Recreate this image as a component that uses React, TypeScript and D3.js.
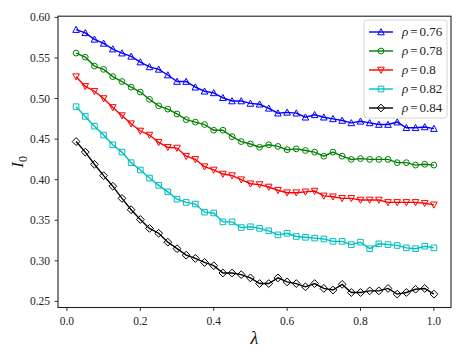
import React from 'react';
import * as d3 from 'd3';

const lambdaValues = [
  0.025, 0.05, 0.075, 0.1, 0.125, 0.15, 0.175, 0.2, 0.225, 0.25,
  0.275, 0.3, 0.325, 0.35, 0.375, 0.4, 0.425, 0.45, 0.475, 0.5,
  0.525, 0.55, 0.575, 0.6, 0.625, 0.65, 0.675, 0.7, 0.725, 0.75,
  0.775, 0.8, 0.825, 0.85, 0.875, 0.9, 0.925, 0.95, 0.975, 1.0,
];

const rho076 = [
  0.585, 0.581, 0.573, 0.568, 0.561, 0.556, 0.552, 0.545, 0.539, 0.536,
  0.529, 0.521, 0.521, 0.514, 0.509, 0.507, 0.501, 0.497, 0.497, 0.494,
  0.493, 0.488, 0.482, 0.483, 0.482, 0.477, 0.48, 0.477, 0.475, 0.473,
  0.47, 0.472, 0.47, 0.468, 0.468, 0.471, 0.464, 0.464, 0.465, 0.463,
];
const rho078 = [
  0.556, 0.551, 0.54, 0.536, 0.527, 0.521, 0.514, 0.508, 0.499, 0.491,
  0.487, 0.481, 0.474, 0.471, 0.468, 0.461, 0.461, 0.453, 0.447, 0.444,
  0.44, 0.443, 0.441, 0.437, 0.438, 0.436, 0.434, 0.429, 0.434, 0.429,
  0.425, 0.426, 0.425, 0.425, 0.425, 0.421, 0.421, 0.418, 0.419, 0.418,
];
const rho080 = [
  0.527, 0.515, 0.509, 0.5, 0.489, 0.479, 0.469, 0.46, 0.455, 0.446,
  0.44, 0.439, 0.429, 0.425, 0.416, 0.412, 0.407, 0.405, 0.4, 0.395,
  0.394, 0.391, 0.387, 0.384, 0.384, 0.385, 0.386, 0.38, 0.379, 0.377,
  0.377, 0.375, 0.375, 0.375, 0.372, 0.372, 0.372, 0.372, 0.371, 0.369,
];
const rho082 = [
  0.49, 0.478, 0.466, 0.455, 0.443, 0.434, 0.421, 0.412, 0.402, 0.393,
  0.385, 0.376, 0.372, 0.37, 0.36, 0.359, 0.348, 0.348, 0.341, 0.342,
  0.34, 0.337, 0.332, 0.334, 0.33, 0.329, 0.328, 0.327, 0.324, 0.324,
  0.32, 0.323, 0.315, 0.321, 0.32, 0.319, 0.316, 0.315, 0.318, 0.316,
];
const rho084 = [
  0.447, 0.434, 0.419, 0.405, 0.392, 0.377, 0.363, 0.351, 0.34, 0.334,
  0.323, 0.315, 0.307, 0.303, 0.298, 0.294, 0.285, 0.285, 0.283, 0.279,
  0.272, 0.272, 0.279, 0.274, 0.272, 0.268, 0.272, 0.266, 0.264, 0.271,
  0.261, 0.261, 0.263, 0.263, 0.266, 0.259, 0.261, 0.265, 0.266, 0.259,
];

const seriesLabels = ['0.76', '0.78', '0.8', '0.82', '0.84'];
const seriesValues = [rho076, rho078, rho080, rho082, rho084];
const seriesColors = ['#0000ff', '#008000', '#ff0000', '#00bfbf', '#000000'];
const seriesMarkers = ['triUp', 'circle', 'triDown', 'square', 'diamond'];

const xTicks = [0.0, 0.2, 0.4, 0.6, 0.8, 1.0];
const yTicks = [0.25, 0.3, 0.35, 0.4, 0.45, 0.5, 0.55, 0.6];

const W = 460;
const H = 354;
const left = 58;
const right = 451;
const top = 16.2;
const bottom = 307.5;
const FONT = "'Liberation Serif', 'Times New Roman', Times, serif";

function markerPath(kind: string): string {
  switch (kind) {
    case 'triUp': {
      const r = 3.3;
      return `M0,${-r}L${r},${r * 0.85}L${-r},${r * 0.85}Z`;
    }
    case 'triDown': {
      const r = 3.3;
      return `M0,${r}L${r},${-r * 0.85}L${-r},${-r * 0.85}Z`;
    }
    case 'circle': {
      const r = 2.9;
      return `M${r},0A${r},${r} 0 1,1 ${-r},0A${r},${r} 0 1,1 ${r},0Z`;
    }
    case 'square': {
      const r = 2.8;
      return `M${-r},${-r}H${r}V${r}H${-r}Z`;
    }
    case 'diamond':
    default: {
      const r = 3.9;
      return `M0,${-r}L${r},0L0,${r}L${-r},0Z`;
    }
  }
}

export default function App() {
  const x = d3.scaleLinear().domain([-0.0243, 1.0466]).range([left, right]);
  const y = d3.scaleLinear().domain([0.2425, 0.6015]).range([bottom, top]);
  const line = d3
    .line<number>()
    .x((_, i) => x(lambdaValues[i]))
    .y((d) => y(d));

  const legendX = 364;
  const legendY = 20;
  const legendW = 83;
  const legendH = 98;

  return (
    <svg
      width={W}
      height={H}
      style={{ position: 'absolute', left: 0, top: 0, background: '#fff', fontFamily: FONT }}
    >
      <rect x={0} y={0} width={W} height={H} fill="#fff" />
      {seriesValues.map((vals, si) => (
        <g key={si}>
          <path d={line(vals) || ''} fill="none" stroke={seriesColors[si]} strokeWidth={1.4} />
          {vals.map((v, i) => (
            <path
              key={i}
              d={markerPath(seriesMarkers[si])}
              transform={`translate(${x(lambdaValues[i])},${y(v)})`}
              fill="none"
              stroke={seriesColors[si]}
              strokeWidth={1}
            />
          ))}
        </g>
      ))}
      <rect x={left} y={top} width={right - left} height={bottom - top} fill="none" stroke="#222" strokeWidth={1.1} />
      {xTicks.map((t) => (
        <g key={t}>
          <line x1={x(t)} x2={x(t)} y1={bottom} y2={bottom + 3.5} stroke="#222" strokeWidth={0.9} />
          <text x={x(t)} y={bottom + 17.5} textAnchor="middle" fontSize={11.5} fill="#222">
            {d3.format('.1f')(t)}
          </text>
        </g>
      ))}
      {yTicks.map((t) => (
        <g key={t}>
          <line x1={left - 3.5} x2={left} y1={y(t)} y2={y(t)} stroke="#222" strokeWidth={0.9} />
          <text x={left - 8} y={y(t) + 4} textAnchor="end" fontSize={11.5} fill="#222">
            {d3.format('.2f')(t)}
          </text>
        </g>
      ))}
      <text x={(left + right) / 2} y={344} textAnchor="middle" fontSize={18} fontStyle="italic" fill="#111">
        λ
      </text>
      <text
        transform={`translate(23,${(top + bottom) / 2}) rotate(-90)`}
        textAnchor="middle"
        fontSize={17}
        fontStyle="italic"
        fill="#111"
      >
        I
        <tspan fontSize={12} dy={4} fontStyle="normal">0</tspan>
      </text>
      <rect
        x={legendX}
        y={legendY}
        width={legendW}
        height={legendH}
        rx={3}
        fill="#fff"
        fillOpacity={0.85}
        stroke="#d6d6d6"
        strokeWidth={1}
      />
      {seriesLabels.map((lab, si) => {
        const cy = 32 + si * 19;
        return (
          <g key={lab}>
            <line x1={369} x2={393} y1={cy} y2={cy} stroke={seriesColors[si]} strokeWidth={1.4} />
            <path
              d={markerPath(seriesMarkers[si])}
              transform={`translate(381,${cy})`}
              fill="none"
              stroke={seriesColors[si]}
              strokeWidth={1}
            />
            <text x={402} y={cy + 4.3} fontSize={13} fill="#222">
              <tspan fontStyle="italic">ρ</tspan>
              <tspan dx={2}>=</tspan>
              <tspan dx={2}>{lab}</tspan>
            </text>
          </g>
        );
      })}
    </svg>
  );
}
